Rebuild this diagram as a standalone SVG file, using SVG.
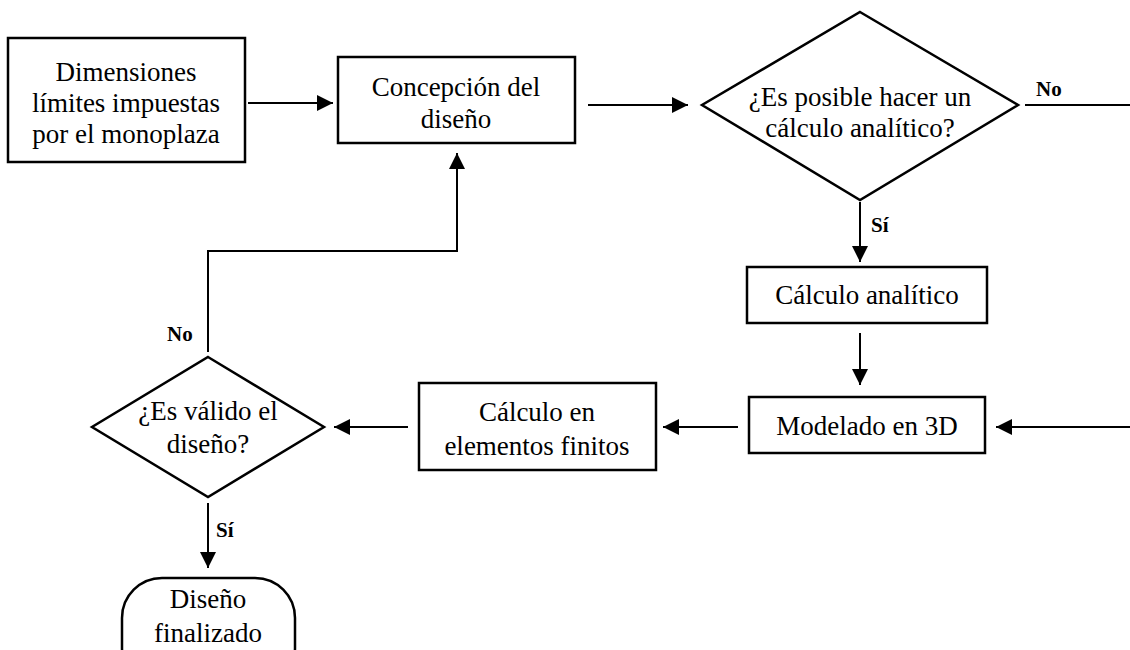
<svg xmlns="http://www.w3.org/2000/svg" width="1130" height="650" viewBox="0 0 1130 650">
<defs>
<marker id="ah" viewBox="0 0 16 16" refX="16" refY="8" markerWidth="16" markerHeight="16" markerUnits="userSpaceOnUse" orient="auto">
<path d="M0,0 L16,8 L0,16 Z" fill="#000"/>
</marker>
<style>
.s{fill:#fff;stroke:#000;stroke-width:2.5}
.t{font-family:'Liberation Serif','Times New Roman',Tinos,'DejaVu Serif',serif;font-size:27px;fill:#000;text-anchor:middle}
.l{font-family:'Liberation Serif','Times New Roman',Tinos,'DejaVu Serif',serif;font-size:21px;font-weight:bold;fill:#000}
.c{fill:none;stroke:#000;stroke-width:2}
</style>
</defs>
<rect width="1130" height="650" fill="#fff"/>
<g id="connectors">
<line class="c" x1="248" y1="103" x2="333" y2="103" marker-end="url(#ah)"/>
<line class="c" x1="588" y1="105" x2="688" y2="105" marker-end="url(#ah)"/>
<line class="c" x1="1025" y1="105" x2="1130" y2="105"/>
<line class="c" x1="860" y1="202" x2="860" y2="262" marker-end="url(#ah)"/>
<line class="c" x1="860" y1="333" x2="860" y2="385" marker-end="url(#ah)"/>
<line class="c" x1="1130" y1="427" x2="996" y2="427" marker-end="url(#ah)"/>
<line class="c" x1="738" y1="427" x2="663" y2="427" marker-end="url(#ah)"/>
<line class="c" x1="408" y1="427" x2="334" y2="427" marker-end="url(#ah)"/>
<polyline class="c" points="208,352 208,251 457,251 457,153" marker-end="url(#ah)"/>
<line class="c" x1="208" y1="503" x2="208" y2="568" marker-end="url(#ah)"/>
<text class="l" x="1036" y="96">No</text>
<text class="l" x="871" y="232">Sí</text>
<text class="l" x="167" y="341">No</text>
<text class="l" x="216" y="537">Sí</text>
</g>
<g id="n1">
<rect class="s" x="8" y="38" width="237" height="124"/>
<text class="t" x="126" y="81">Dimensiones</text>
<text class="t" x="126" y="112">límites impuestas</text>
<text class="t" x="126" y="143">por el monoplaza</text>
</g>
<g id="n2">
<rect class="s" x="338" y="57" width="237" height="86"/>
<text class="t" x="456" y="96">Concepción del</text>
<text class="t" x="456" y="128">diseño</text>
</g>
<g id="d1">
<polygon class="s" points="860,12 1018,105 860,200 702,105"/>
<text class="t" x="860" y="106">¿Es posible hacer un</text>
<text class="t" x="860" y="137">cálculo analítico?</text>
</g>
<g id="n3">
<rect class="s" x="747" y="267" width="240" height="56"/>
<text class="t" x="867" y="304">Cálculo analítico</text>
</g>
<g id="n4">
<rect class="s" x="749" y="397" width="236" height="56"/>
<text class="t" x="867" y="435">Modelado en 3D</text>
</g>
<g id="n5">
<rect class="s" x="419" y="383" width="237" height="87"/>
<text class="t" x="537" y="421">Cálculo en</text>
<text class="t" x="537" y="455">elementos finitos</text>
</g>
<g id="d2">
<polygon class="s" points="208,357 324,427 208,497 92,427"/>
<text class="t" x="208" y="420">¿Es válido el</text>
<text class="t" x="208" y="453">diseño?</text>
</g>
<g id="end">
<rect class="s" x="122" y="578" width="173" height="110" rx="40" ry="40"/>
<text class="t" x="208" y="608">Diseño</text>
<text class="t" x="208" y="642">finalizado</text>
</g>
</svg>
